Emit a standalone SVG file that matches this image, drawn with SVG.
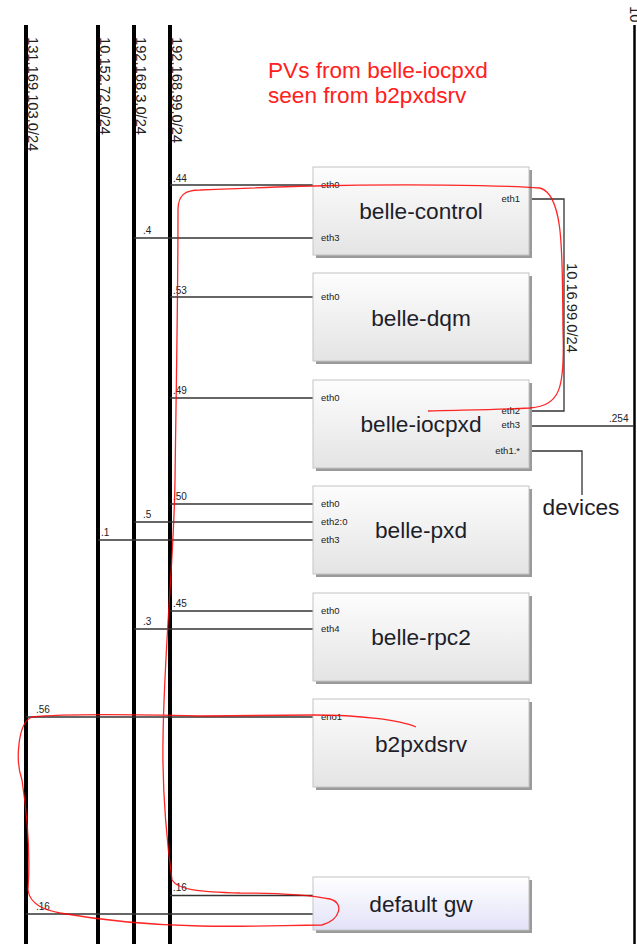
<svg xmlns="http://www.w3.org/2000/svg" width="637" height="944" viewBox="0 0 637 944">
<style>
.bus{stroke:#000;stroke-width:4}
.busr{stroke:#000;stroke-width:2.5}
.blabel{font-family:"Liberation Sans",Arial,sans-serif;font-size:14.7px;fill:#222}
.box{fill:url(#g);stroke:#c4c4c4;stroke-width:1}
.gw{fill:url(#g2);stroke:#c4c4c4;stroke-width:1}
.sh{fill:#9a9a9a}
.name{font-family:"Liberation Sans",Arial,sans-serif;font-size:22.7px;fill:#1e1e2a;text-anchor:middle}
.port{font-family:"Liberation Sans",Arial,sans-serif;font-size:9.5px;fill:#222}
.portr{font-family:"Liberation Sans",Arial,sans-serif;font-size:9.5px;fill:#222;text-anchor:end}
.addr{font-family:"Liberation Sans",Arial,sans-serif;font-size:10px;fill:#222}
.ln{stroke:#333;stroke-width:1.3;fill:none}
.note{font-family:"Liberation Sans",Arial,sans-serif;font-size:22.6px;fill:#ff2020}
</style>
<defs>
<linearGradient id="g" x1="0" y1="0" x2="0" y2="1"><stop offset="0" stop-color="#fdfdfd"/><stop offset="1" stop-color="#e4e4e4"/></linearGradient>
<linearGradient id="g2" x1="0" y1="0" x2="0" y2="1"><stop offset="0" stop-color="#ffffff"/><stop offset="1" stop-color="#e2e2f8"/></linearGradient>
</defs>
<rect width="637" height="944" fill="#fff"/>
<g id="buses">
<line class="bus" x1="26" y1="25" x2="26" y2="944"/>
<line class="bus" x1="98" y1="25" x2="98" y2="944"/>
<line class="bus" x1="134" y1="25" x2="134" y2="944"/>
<line class="bus" x1="170" y1="25" x2="170" y2="944"/>
<line class="busr" x1="634.5" y1="25" x2="634.5" y2="944"/>
<text class="blabel" transform="translate(28,37) rotate(90)">131.169.103.0/24</text>
<text class="blabel" transform="translate(100,37) rotate(90)">10.152.72.0/24</text>
<text class="blabel" transform="translate(136,37) rotate(90)">192.168.3.0/24</text>
<text class="blabel" transform="translate(172,37) rotate(90)">192.168.99.0/24</text>
<text class="blabel" transform="translate(630,6) rotate(90)" font-size="12">10</text>
</g>
<g id="connectors">
<line class="ln" x1="170" y1="185" x2="313" y2="185"/>
<line class="ln" x1="134" y1="238" x2="313" y2="238"/>
<polyline class="ln" points="529,199 564,199 564,411 529,411"/>
<line class="ln" x1="170" y1="297" x2="313" y2="297"/>
<line class="ln" x1="170" y1="398" x2="313" y2="398" stroke="#555"/>
<line class="ln" x1="529" y1="426" x2="634" y2="426"/>
<polyline class="ln" points="529,451 582,451 582,495"/>
<line class="ln" x1="170" y1="504" x2="313" y2="504"/>
<line class="ln" x1="134" y1="522" x2="313" y2="522" stroke="#555"/>
<line class="ln" x1="98" y1="540" x2="313" y2="540" stroke="#555"/>
<line class="ln" x1="170" y1="611" x2="313" y2="611" stroke="#555"/>
<line class="ln" x1="134" y1="629" x2="313" y2="629"/>
<line class="ln" x1="26" y1="717" x2="313" y2="717"/>
<line class="ln" x1="170" y1="895.5" x2="313" y2="895.5"/>
<line class="ln" x1="26" y1="914" x2="313" y2="914"/>
<text class="addr" x="173" y="182">.44</text>
<text class="addr" x="143" y="234">.4</text>
<text class="addr" x="173" y="294">.53</text>
<text class="addr" x="173" y="394">.49</text>
<text class="addr" x="609" y="422">.254</text>
<text class="addr" x="173" y="500">.50</text>
<text class="addr" x="143" y="518">.5</text>
<text class="addr" x="101" y="536">.1</text>
<text class="addr" x="173" y="607">.45</text>
<text class="addr" x="143" y="625">.3</text>
<text class="addr" x="36" y="713">.56</text>
<text class="addr" x="173" y="891">.16</text>
<text class="addr" x="36" y="910">.16</text>
<text class="blabel" transform="translate(567,263) rotate(90)">10.16.99.0/24</text>
<text class="name" x="581" y="515">devices</text>
</g>
<g id="belle-control">
<rect class="sh" x="316" y="170" width="216" height="88"/>
<rect class="box" x="313" y="167" width="216" height="88"/>
<text class="name" x="421" y="219">belle-control</text>
<text class="port" x="321" y="188">eth0</text>
<text class="port" x="321" y="241">eth3</text>
<text class="portr" x="520" y="202">eth1</text>
</g>
<g id="belle-dqm">
<rect class="sh" x="316" y="276" width="216" height="88"/>
<rect class="box" x="313" y="273" width="216" height="88"/>
<text class="name" x="421" y="326">belle-dqm</text>
<text class="port" x="321" y="300">eth0</text>
</g>
<g id="belle-iocpxd">
<rect class="sh" x="316" y="383" width="216" height="88"/>
<rect class="box" x="313" y="380" width="216" height="88"/>
<text class="name" x="421" y="432">belle-iocpxd</text>
<text class="port" x="321" y="401">eth0</text>
<text class="portr" x="520" y="414">eth2</text>
<text class="portr" x="520" y="428">eth3</text>
<text class="portr" x="520" y="454">eth1.*</text>
</g>
<g id="belle-pxd">
<rect class="sh" x="316" y="489" width="216" height="88"/>
<rect class="box" x="313" y="486" width="216" height="88"/>
<text class="name" x="421" y="538">belle-pxd</text>
<text class="port" x="321" y="507">eth0</text>
<text class="port" x="321" y="525">eth2:0</text>
<text class="port" x="321" y="543">eth3</text>
</g>
<g id="belle-rpc2">
<rect class="sh" x="316" y="596" width="216" height="88"/>
<rect class="box" x="313" y="593" width="216" height="88"/>
<text class="name" x="421" y="645">belle-rpc2</text>
<text class="port" x="321" y="614">eth0</text>
<text class="port" x="321" y="632">eth4</text>
</g>
<g id="b2pxdsrv">
<rect class="sh" x="316" y="702" width="216" height="88"/>
<rect class="box" x="313" y="699" width="216" height="88"/>
<text class="name" x="421" y="752">b2pxdsrv</text>
<text class="port" x="321" y="720">eno1</text>
</g>
<g id="default-gw">
<rect class="sh" x="316" y="880" width="216" height="53"/>
<rect class="gw" x="313" y="877" width="216" height="53"/>
<text class="name" x="421" y="912">default gw</text>
</g>
<g id="annotation">
<text class="note" x="268" y="78">PVs from belle-iocpxd</text>
<text class="note" x="268" y="103">seen from b2pxdsrv</text>
<path d="M416 727 C400 720 360 715 313 715 L200 716 C120 714 60 714 32 717 C18 722 15 760 22 780 C28 820 30 860 28 890 C30 905 45 910 60 913 C100 920 140 925 200 926 C250 927 290 925 322 925 C340 920 345 903 330 899 C310 895 280 893 240 893 C200 892 178 890 172 880 C168 850 162 800 163 740 C164 650 174 560 175 480 C176 400 178 300 178 210 C178 195 185 190 200 190 C250 188 300 186 313 186 C400 184 500 185 540 188 C565 195 562 260 563 330 C565 390 560 405 530 408 C490 410 450 410 428 411" fill="none" stroke="#ff0000" stroke-width="1.3" stroke-opacity="0.85"/>
</g>
</svg>
